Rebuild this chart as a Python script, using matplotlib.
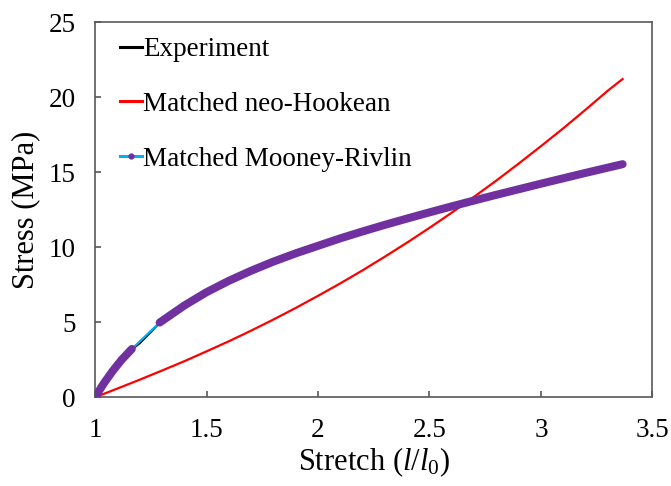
import numpy as np
import matplotlib.pyplot as plt
from matplotlib.lines import Line2D

plt.rcParams['font.family'] = ['Liberation Serif', 'DejaVu Serif']
plt.rcParams['mathtext.fontset'] = 'custom'
plt.rcParams['mathtext.it'] = 'Liberation Serif:italic'
plt.rcParams['mathtext.rm'] = 'Liberation Serif'

# experiment
exp_stretch = [1.0, 1.04, 1.08, 1.12, 1.165, 1.2, 1.25, 1.29, 1.4, 1.5, 1.6, 1.7, 1.8,
               1.9, 2.0, 2.1, 2.2, 2.3, 2.4, 2.5, 2.6, 2.7, 2.8, 2.9, 3.0, 3.1, 3.2,
               3.3, 3.37]
exp_stress = [0.0, 0.94, 1.77, 2.51, 3.2, 3.6, 4.35, 4.98, 6.11, 7.0, 7.76, 8.43, 9.04,
              9.59, 10.09, 10.59, 11.05, 11.49, 11.91, 12.32, 12.72, 13.11, 13.49, 13.86,
              14.23, 14.59, 14.97, 15.35, 15.6]

# matched neo-Hookean
nh_stretch = [1.0, 1.1, 1.2, 1.3, 1.4, 1.5, 1.6, 1.7, 1.8, 1.9, 2.0, 2.1, 2.2, 2.3,
              2.4, 2.5, 2.6, 2.7, 2.8, 2.9, 3.0, 3.1, 3.2, 3.3, 3.366]
nh_stress = [0.0, 0.58, 1.17, 1.78, 2.4, 3.06, 3.73, 4.44, 5.18, 5.95, 6.76, 7.59,
             8.46, 9.37, 10.31, 11.29, 12.3, 13.36, 14.44, 15.57, 16.73, 17.92,
             19.16, 20.43, 21.2]

# matched Mooney-Rivlin (dense markers except the sparse stretch between 1.165 and 1.29)
mr_stretch = np.array([1.0, 1.04, 1.08, 1.12, 1.165, 1.29, 1.4, 1.5, 1.6, 1.7, 1.8,
                       1.9, 2.0, 2.1, 2.2, 2.3, 2.4, 2.5, 2.6, 2.7, 2.8, 2.9, 3.0,
                       3.1, 3.2, 3.3, 3.366])
mr_stress = np.array([0.0, 0.94, 1.77, 2.51, 3.22, 4.98, 6.11, 7.0, 7.76, 8.43, 9.04,
                      9.59, 10.09, 10.59, 11.05, 11.49, 11.91, 12.32, 12.72, 13.11,
                      13.49, 13.86, 14.23, 14.59, 14.95, 15.3, 15.53])

red = '#FF0000'
cyan = '#00B0F0'
purple = '#7030A0'
grey = '#595959'

fig = plt.figure(figsize=(6.71, 4.86), dpi=100)
ax = fig.add_axes([0.1416, 0.1825, 0.8308, 0.7722])

ax.plot(exp_stretch, exp_stress, color='black', lw=1.6, zorder=2)
ax.plot(nh_stretch, nh_stress, color=red, lw=1.6, zorder=3)
ax.plot(mr_stretch, mr_stress, color=cyan, lw=1.6, zorder=3)
lo = mr_stretch <= 1.165
hi = mr_stretch >= 1.29
for m in (lo, hi):
    ax.plot(mr_stretch[m], mr_stress[m], color=purple, lw=5.8,
            solid_capstyle='round', solid_joinstyle='round', zorder=4)

ax.set_xlim(1, 3.5)
ax.set_ylim(0, 25)
ax.set_xticks([1, 1.5, 2, 2.5, 3, 3.5])
ax.set_xticklabels(['1', '1.5', '2', '2.5', '3', '3.5'])
ax.set_yticks([0, 5, 10, 15, 20, 25])

for s in ax.spines.values():
    s.set_color(grey)
    s.set_linewidth(1.2)
ax.tick_params(direction='in', length=4.5, width=1.2, color=grey,
               labelsize=19.5, pad=15)
ax.tick_params(axis='y', pad=14)

ax.set_xlabel(r'Stretch ($l/l_{\mathit{0}}$)', fontsize=22, labelpad=2)
ax.set_ylabel('Stress (MPa)', fontsize=22, labelpad=6)

handles = [
    Line2D([], [], color='black', lw=2.2),
    Line2D([], [], color=red, lw=2.2),
    Line2D([], [], color=cyan, lw=2.2, marker='o', markersize=3.5,
           markerfacecolor=purple, markeredgecolor=purple),
]
labels = ['Experiment', 'Matched neo-Hookean', 'Matched Mooney-Rivlin']
ax.legend(handles, labels, loc='upper left', bbox_to_anchor=(0.045, 0.96),
          frameon=False, fontsize=19.5, handlelength=0.8, handletextpad=0.05,
          labelspacing=1.1, borderpad=0, borderaxespad=0)

fig.savefig('out.png', dpi=100)
